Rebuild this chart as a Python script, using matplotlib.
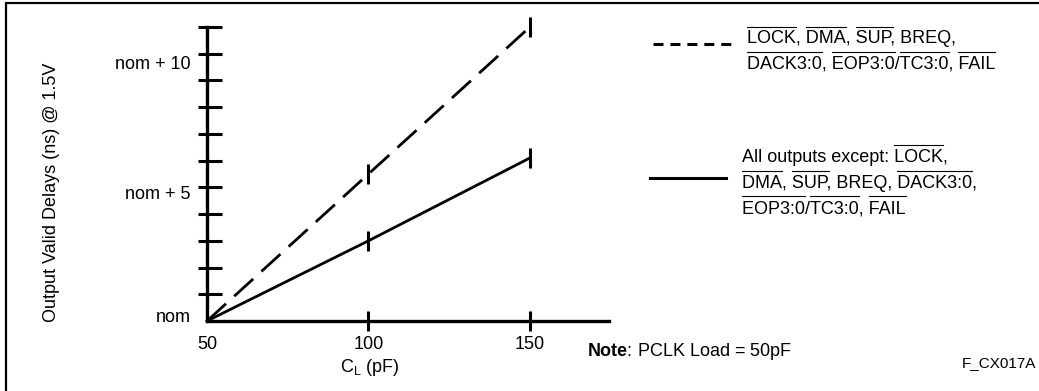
import matplotlib
matplotlib.use('Agg')
import matplotlib.pyplot as plt
from matplotlib.lines import Line2D
from matplotlib.transforms import ScaledTranslation

plt.rcParams['font.family'] = ['Liberation Sans', 'DejaVu Sans']
plt.rcParams['mathtext.fontset'] = 'custom'
plt.rcParams['mathtext.rm'] = 'Liberation Sans'
plt.rcParams['mathtext.it'] = 'Liberation Sans:italic'
plt.rcParams['mathtext.bf'] = 'Liberation Sans:bold'
plt.rcParams['lines.scale_dashes'] = False

# ---------------- data ----------------
load_pf = [50, 100, 150]
delay_group = [0.0, 5.5, 11.0]   # dashed: LOCK, DMA, SUP, BREQ, ...
delay_other = [0.0, 3.0, 6.1]    # solid: all other outputs
x_ticks = [50, 100, 150]
y_ticks = list(range(0, 12))
y_label_vals = [0, 5, 10]
y_label_txt = ['nom', 'nom + 5', 'nom + 10']

legend_dashed = [
    [("LOCK", 1), (", ", 0), ("DMA", 1), (", ", 0), ("SUP", 1), (", BREQ,", 0)],
    [("DACK3:0", 1), (", ", 0), ("EOP3:0", 1), ("/", 0), ("TC3:0", 1), (", ", 0), ("FAIL", 1)],
]
legend_solid = [
    [("All outputs except: ", 0), ("LOCK", 1), (",", 0)],
    [("DMA", 1), (", ", 0), ("SUP", 1), (", BREQ, ", 0), ("DACK3:0", 1), (",", 0)],
    [("EOP3:0", 1), ("/", 0), ("TC3:0", 1), (", ", 0), ("FAIL", 1)],
]

W, H = 1039, 391
fig = plt.figure(figsize=(W / 100, H / 100), dpi=100)
fig.patch.set_facecolor('white')


def fx(x):
    return x / W


def fy(y):
    return 1 - y / H


FS = 13

ax = fig.add_axes([fx(207), fy(321), (609 - 207) / W, (321 - 27) / H])
ax.set_xlim(50, 174.5)
ax.set_ylim(0, 11)
ax.patch.set_visible(False)
for s in ['top', 'right']:
    ax.spines[s].set_visible(False)
for s in ['left', 'bottom']:
    ax.spines[s].set_linewidth(2.4)

# y ticks
ax.set_yticks(y_ticks)
ax.set_yticklabels([t if v in y_label_vals else '' for v, t in
                    zip(y_ticks, [y_label_txt[y_label_vals.index(v)] if v in y_label_vals else '' for v in y_ticks])])
ax.set_yticks(y_ticks, minor=True)
ax.yaxis.remove_overlapping_locs = False
ax.tick_params(axis='y', which='major', direction='in', length=10.5, width=2.2,
               pad=12, labelsize=FS)
ax.tick_params(axis='y', which='minor', direction='out', length=6.5, width=2.2,
               labelleft=False)

# x ticks
ax.set_xticks(x_ticks)
ax.set_xticklabels([str(v) for v in x_ticks])
ax.tick_params(axis='x', which='major', direction='inout', length=14.4, width=2.2,
               pad=3.6, labelsize=FS)

fig.canvas.draw()
ax.xaxis.get_major_ticks()[0].tick1line.set_visible(False)
ax.yaxis.get_major_ticks()[0].tick1line.set_visible(False)
ax.yaxis.get_minor_ticks()[0].tick1line.set_visible(False)

# per-label baseline offsets (px below tick)
offs = {0: 1, 5: 12, 10: 15}
for v, tk in zip(y_ticks, ax.yaxis.get_major_ticks()):
    if v in offs:
        lab = tk.label1
        lab.set_verticalalignment('baseline')
        lab.set_transform(lab.get_transform() +
                          ScaledTranslation(0, -offs[v] / 100, fig.dpi_scale_trans))

# data lines
ax.plot(load_pf, delay_group, color='black', lw=2.0, dashes=(18.5, 8.0),
        marker='|', markevery=[1, 2], ms=15, mew=2.2, clip_on=False)
ax.plot(load_pf, delay_other, color='black', lw=2.0,
        marker='|', markevery=[1, 2], ms=15, mew=2.2, clip_on=False)

# axis labels
fig.text(fx(52), fy(192), "Output Valid Delays (ns) @ 1.5V", rotation=90,
         ha='center', va='center', fontsize=FS)
fig.text(fx(370), fy(372), r"C$_\mathrm{L}$ (pF)", ha='center', va='baseline',
         fontsize=FS)

# note & figure id
fig.text(fx(587), fy(356), r"$\mathbf{Note}$: PCLK Load = 50pF", ha='left',
         va='baseline', fontsize=FS)
fig.text(fx(962), fy(367), "F_CX017A", ha='left', va='baseline', fontsize=11)

renderer = fig.canvas.get_renderer()


def width_of(s, size=FS):
    t = fig.text(0, 0, s, fontsize=size)
    bb = t.get_window_extent(renderer)
    t.remove()
    return bb.width


def rich_line(x, base, segs):
    full = "".join(s for s, _ in segs)
    fig.text(fx(x), fy(base), full, ha='left', va='baseline', fontsize=FS)
    prefix = ""
    for s, over in segs:
        if over:
            end = width_of(prefix + s)
            start = end - width_of(s)
            fig.add_artist(Line2D([fx(x + start), fx(x + end)],
                                  [fy(base - 16.6), fy(base - 16.6)],
                                  transform=fig.transFigure, color='black',
                                  lw=0.8))
        prefix += s


for i, segs in enumerate(legend_dashed):
    rich_line(747, 43.3 + i * 25.0, segs)
for i, segs in enumerate(legend_solid):
    rich_line(742, 162 + i * 25.5, segs)

# legend handles
fig.add_artist(Line2D([fx(653), fx(733)], [fy(44), fy(44)], transform=fig.transFigure,
                      color='black', lw=2.2, dashes=(7.2, 5.0)))
fig.add_artist(Line2D([fx(650), fx(726)], [fy(178), fy(178)], transform=fig.transFigure,
                      color='black', lw=2.2))

# frame
fig.add_artist(Line2D([fx(6), fx(6), fx(1038)], [fy(395), fy(3), fy(3)],
                      transform=fig.transFigure, color='black', lw=1.6,
                      solid_joinstyle='miter'))

fig.savefig('out.png', dpi=100, facecolor='white')
